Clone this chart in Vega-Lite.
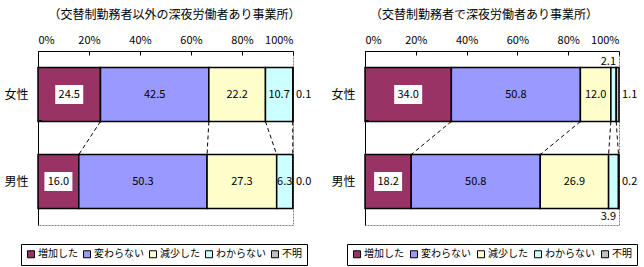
{
  "$schema": "https://vega.github.io/schema/vega-lite/v6.json",
  "autosize": {"type": "pad"},
  "padding": {"left": 3, "top": 8, "right": 0, "bottom": 0},
  "background": "white",
  "datasets": {
    "nonShift": [
      {"gender": "女性", "cat": "増加した", "no": 1, "value": 24.5},
      {"gender": "女性", "cat": "変わらない", "no": 2, "value": 42.5},
      {"gender": "女性", "cat": "減少した", "no": 3, "value": 22.2},
      {"gender": "女性", "cat": "わからない", "no": 4, "value": 10.7},
      {"gender": "女性", "cat": "不明", "no": 5, "value": 0.1},
      {"gender": "男性", "cat": "増加した", "no": 1, "value": 16.0},
      {"gender": "男性", "cat": "変わらない", "no": 2, "value": 50.3},
      {"gender": "男性", "cat": "減少した", "no": 3, "value": 27.3},
      {"gender": "男性", "cat": "わからない", "no": 4, "value": 6.3},
      {"gender": "男性", "cat": "不明", "no": 5, "value": 0.0}
    ],
    "shift": [
      {"gender": "女性", "cat": "増加した", "no": 1, "value": 34.0},
      {"gender": "女性", "cat": "変わらない", "no": 2, "value": 50.8},
      {"gender": "女性", "cat": "減少した", "no": 3, "value": 12.0},
      {"gender": "女性", "cat": "わからない", "no": 4, "value": 2.1},
      {"gender": "女性", "cat": "不明", "no": 5, "value": 1.1},
      {"gender": "男性", "cat": "増加した", "no": 1, "value": 18.2},
      {"gender": "男性", "cat": "変わらない", "no": 2, "value": 50.8},
      {"gender": "男性", "cat": "減少した", "no": 3, "value": 26.9},
      {"gender": "男性", "cat": "わからない", "no": 4, "value": 3.9},
      {"gender": "男性", "cat": "不明", "no": 5, "value": 0.2}
    ]
  },
  "hconcat": [
    {
      "width": 255,
      "height": 174,
      "title": {"text": "（交替制勤務者以外の深夜労働者あり事業所）", "dx": 9},
      "data": {"name": "nonShift"},
      "encoding": {
        "y": {
          "field": "gender", "type": "nominal", "sort": ["女性", "男性"],
          "scale": {"paddingInner": 0.38, "paddingOuter": 0.19},
          "axis": {"title": null, "ticks": false, "labelFontSize": 12, "labelPadding": 10, "labelAngle": 0, "domainColor": "black", "labelColor": "black"}
        }
      },
      "layer": [
        {
          "mark": {"type": "bar", "stroke": "black", "strokeWidth": 1.5},
          "encoding": {
            "x": {
              "field": "value", "type": "quantitative", "stack": "zero", "title": null,
              "scale": {"domain": [0, 100]},
              "axis": {"orient": "top", "values": [0, 20, 40, 60, 80, 100], "labelExpr": "datum.value + '%'", "grid": false, "tickSize": -4, "tickColor": "black", "domainColor": "black", "labelFontSize": 11, "labelPadding": 10, "labelColor": "black"}
            },
            "order": {"field": "no"},
            "color": {
              "field": "cat", "type": "nominal",
              "scale": {"domain": ["増加した", "変わらない", "減少した", "わからない", "不明"], "range": ["#993366", "#9999FF", "#FFFFCC", "#CCFFFF", "#C0C0C0"]},
              "legend": {"orient": "none", "legendX": -17, "legendY": 193, "direction": "horizontal", "columns": 5, "title": null, "symbolType": "square", "symbolSize": 49, "symbolStrokeColor": "black", "symbolStrokeWidth": 1, "symbolOpacity": 1, "labelFontSize": 10, "labelOffset": 2, "columnPadding": 3, "strokeColor": "black", "padding": 5, "labelColor": "black"}
            }
          }
        },
        {
          "transform": [
            {"stack": "value", "groupby": ["gender"], "sort": [{"field": "no"}], "as": ["s0", "s1"]},
            {"filter": "datum.cat !== '不明'"},
            {"pivot": "gender", "value": "s1", "groupby": ["cat"]}
          ],
          "mark": {"type": "rule", "color": "black", "strokeDash": [4, 3], "strokeWidth": 1},
          "encoding": {
            "x": {"field": "女性", "type": "quantitative", "title": null},
            "x2": {"field": "男性"},
            "y": {"datum": "女性", "type": "nominal", "bandPosition": 1},
            "y2": {"datum": "男性", "bandPosition": 0}
          }
        },
        {
          "mark": {"type": "rule", "color": "black", "strokeWidth": 1},
          "encoding": {
            "x": {"datum": 0, "type": "quantitative"},
            "x2": {"datum": 1.3},
            "y": {"datum": "男性", "type": "nominal", "bandPosition": -0.62}
          }
        },
        {
          "transform": [{"filter": "datum.cat === '増加した'"}],
          "mark": {"type": "point", "shape": "M-1,-0.68H1V0.68H-1Z", "filled": true, "fill": "white", "opacity": 1, "size": 784, "strokeWidth": 0},
          "encoding": {
            "x": {"field": "value", "type": "quantitative", "stack": "zero", "bandPosition": 0.5, "title": null}
          }
        },
        {
          "mark": {"type": "text", "fontSize": 11, "color": "black"},
          "encoding": {
            "x": {"field": "value", "type": "quantitative", "stack": "zero", "bandPosition": 0.5, "title": null},
            "order": {"field": "no"},
            "text": {"condition": {"test": "datum.value >= 5", "field": "value", "type": "quantitative", "format": ".1f"}, "value": ""}
          }
        },
        {
          "transform": [{"filter": "datum.cat === '不明'"}],
          "mark": {"type": "text", "fontSize": 11, "color": "black", "align": "left", "dx": 3},
          "encoding": {
            "x": {"datum": 100, "type": "quantitative"},
            "text": {"field": "value", "type": "quantitative", "format": ".1f"}
          }
        }
      ]
    },
    {
      "width": 254,
      "height": 174,
      "title": {"text": "（交替制勤務者で深夜労働者あり事業所）", "dx": -8},
      "data": {"name": "shift"},
      "encoding": {
        "y": {
          "field": "gender", "type": "nominal", "sort": ["女性", "男性"],
          "scale": {"paddingInner": 0.38, "paddingOuter": 0.19},
          "axis": {"title": null, "ticks": false, "labelFontSize": 12, "labelPadding": 10, "labelAngle": 0, "domainColor": "black", "labelColor": "black"}
        }
      },
      "layer": [
        {
          "mark": {"type": "bar", "stroke": "black", "strokeWidth": 1.5},
          "encoding": {
            "x": {
              "field": "value", "type": "quantitative", "stack": "zero", "title": null,
              "scale": {"domain": [0, 100]},
              "axis": {"orient": "top", "values": [0, 20, 40, 60, 80, 100], "labelExpr": "datum.value + '%'", "grid": false, "tickSize": -4, "tickColor": "black", "domainColor": "black", "labelFontSize": 11, "labelPadding": 10, "labelColor": "black"}
            },
            "order": {"field": "no"},
            "color": {
              "field": "cat", "type": "nominal",
              "scale": {"domain": ["増加した", "変わらない", "減少した", "わからない", "不明"], "range": ["#993366", "#9999FF", "#FFFFCC", "#CCFFFF", "#C0C0C0"]},
              "legend": {"orient": "none", "legendX": -18, "legendY": 193, "direction": "horizontal", "columns": 5, "title": null, "symbolType": "square", "symbolSize": 49, "symbolStrokeColor": "black", "symbolStrokeWidth": 1, "symbolOpacity": 1, "labelFontSize": 10, "labelOffset": 2, "columnPadding": 4, "strokeColor": "black", "padding": 5, "labelColor": "black"}
            }
          }
        },
        {
          "transform": [
            {"stack": "value", "groupby": ["gender"], "sort": [{"field": "no"}], "as": ["s0", "s1"]},
            {"filter": "datum.cat !== '不明'"},
            {"pivot": "gender", "value": "s1", "groupby": ["cat"]}
          ],
          "mark": {"type": "rule", "color": "black", "strokeDash": [4, 3], "strokeWidth": 1},
          "encoding": {
            "x": {"field": "女性", "type": "quantitative", "title": null},
            "x2": {"field": "男性"},
            "y": {"datum": "女性", "type": "nominal", "bandPosition": 1},
            "y2": {"datum": "男性", "bandPosition": 0}
          }
        },
        {
          "mark": {"type": "rule", "color": "black", "strokeWidth": 1},
          "encoding": {
            "x": {"datum": 0, "type": "quantitative"},
            "x2": {"datum": 1.3},
            "y": {"datum": "男性", "type": "nominal", "bandPosition": -0.62}
          }
        },
        {
          "transform": [{"filter": "datum.cat === '増加した'"}],
          "mark": {"type": "point", "shape": "M-1,-0.68H1V0.68H-1Z", "filled": true, "fill": "white", "opacity": 1, "size": 784, "strokeWidth": 0},
          "encoding": {
            "x": {"field": "value", "type": "quantitative", "stack": "zero", "bandPosition": 0.5, "title": null}
          }
        },
        {
          "mark": {"type": "text", "fontSize": 11, "color": "black"},
          "encoding": {
            "x": {"field": "value", "type": "quantitative", "stack": "zero", "bandPosition": 0.5, "title": null},
            "order": {"field": "no"},
            "text": {"condition": {"test": "datum.value >= 5", "field": "value", "type": "quantitative", "format": ".1f"}, "value": ""}
          }
        },
        {
          "transform": [{"filter": "datum.cat === '不明'"}],
          "mark": {"type": "text", "fontSize": 11, "color": "black", "align": "left", "dx": 3},
          "encoding": {
            "x": {"datum": 100, "type": "quantitative"},
            "text": {"field": "value", "type": "quantitative", "format": ".1f"}
          }
        },
        {
          "transform": [{"filter": "datum.cat === 'わからない' && datum.value < 5 && datum.gender === '女性'"}],
          "mark": {"type": "text", "fontSize": 11, "color": "black", "align": "right", "baseline": "bottom", "dx": -3, "dy": -1},
          "encoding": {
            "x": {"datum": 100, "type": "quantitative"},
            "y": {"field": "gender", "type": "nominal", "bandPosition": 0},
            "text": {"field": "value", "type": "quantitative", "format": ".1f"}
          }
        },
        {
          "transform": [{"filter": "datum.cat === 'わからない' && datum.value < 5 && datum.gender === '男性'"}],
          "mark": {"type": "text", "fontSize": 11, "color": "black", "align": "right", "baseline": "top", "dx": -3, "dy": 3},
          "encoding": {
            "x": {"datum": 100, "type": "quantitative"},
            "y": {"field": "gender", "type": "nominal", "bandPosition": 1},
            "text": {"field": "value", "type": "quantitative", "format": ".1f"}
          }
        }
      ]
    }
  ],
  "spacing": 72,
  "bounds": "flush",
  "resolve": {"scale": {"color": "independent"}, "legend": {"color": "independent"}},
  "config": {
    "font": "Noto Sans CJK JP",
    "view": {"stroke": "#808080", "strokeDash": [2, 1], "strokeWidth": 1},
    "title": {"fontSize": 12, "fontWeight": "normal", "anchor": "middle", "offset": 12, "color": "black"},
    "axis": {"labelFont": "Noto Sans CJK JP"},
    "legend": {"labelFont": "Noto Sans CJK JP"}
  }
}
